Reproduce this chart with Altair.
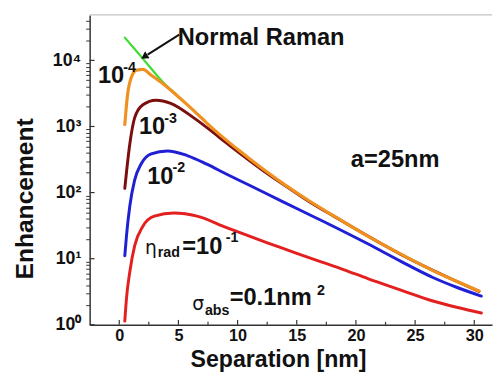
import altair as alt
import pandas as pd

# ---------------- data ----------------
green_x = [0.47, 1.5, 2.5, 3.8, 4.8]
green_y = [22100, 13500, 8300, 4470, 3100]

orange_x = [0.47, 0.7, 1.03, 1.45, 2.0, 2.7, 3.8, 4.8, 5.74, 7.0, 7.96, 10.0, 12.0, 14.0, 16.0, 18.2, 21.0, 23.8, 26.5, 28.5, 30.4]
orange_y = [1070, 3000, 5600, 7100, 7300, 5960, 4270, 3020, 2140, 1320, 912, 451, 237, 131, 76, 43.6, 21.9, 11.7, 6.6, 4.57, 3.24]

maroon_x = [0.47, 0.89, 1.3, 2.0, 3.1, 4.35, 6.3, 8.5, 10.0, 12.0, 14.0, 16.0, 18.2, 23.8, 30.4]
maroon_y = [116, 540, 1350, 2130, 2500, 2240, 1350, 676, 417, 226, 128, 74, 43.1, 11.6, 3.2]

blue_x = [0.47, 0.61, 0.89, 1.3, 1.86, 2.7, 4.08, 5.74, 7.4, 9.0, 11.0, 13.8, 16.6, 18.2, 21.0, 23.8, 26.5, 28.5, 30.6]
blue_y = [11.1, 22, 62, 154, 273, 385, 427, 363, 269, 193, 129, 73, 41.7, 30.2, 16.8, 9.1, 5.2, 3.7, 2.72]

red_x = [0.47, 0.61, 0.89, 1.3, 2.0, 2.97, 4.63, 6.57, 9.07, 11.0, 13.0, 15.0, 17.0, 19.0, 21.0, 23.8, 26.5, 28.5, 30.6]
red_y = [1.14, 2.5, 6.3, 15.6, 31, 44, 49, 44, 29.5, 21.9, 16.2, 12.0, 9.0, 6.8, 5.0, 3.35, 2.29, 1.84, 1.51]

x_ticks_major = [0, 5, 10, 15, 20, 25, 30]
x_ticks_minor = [2.5, 7.5, 12.5, 17.5, 22.5, 27.5]
y_ticks_major = [1, 10, 100, 1000, 10000]
y_ticks_all = [m * 10 ** k for k in range(5) for m in range(1, 10) if m * 10 ** k <= 48000]

# annotation texts (x in nm, y in enhancement units)
big_text = ["Normal Raman", "10", "10", "10", "=10", "=0.1nm", "a=25nm"]
big_x = [4.95, -1.8, 1.66, 2.36, 5.33, 9.33, 19.57]
big_y = [16800, 4470, 762, 137, 11.8, 1.99, 240]

greek_text = ["η", "σ"]
greek_x = [2.17, 6.16]
greek_y = [11.8, 1.67]

small_text = ["-4", "-3", "-2", "-1", "rad", "abs", "2"]
small_x = [0.34, 3.81, 4.5, 9.0, 3.25, 7.24, 16.7]
small_y = [6670, 1128, 205, 17.8, 10.6, 1.41, 2.8]

arrow_x = [5.07, 2.4]
arrow_y = [24500, 12200]
head_x = [2.2]
head_y = [11600]

# ---------------- layout ----------------
W, H = 409, 315
X_DOMAIN = [-2.5, 31.5]
Y_DOMAIN = [1, 48700]
FONT = "Liberation Sans"

xs = alt.Scale(domain=X_DOMAIN, nice=False, zero=False)
ys = alt.Scale(type="log", domain=Y_DOMAIN, nice=False)

label_expr = ("datum.value==1?'10⁰':datum.value==10?'10¹':datum.value==100?'10²':"
              "datum.value==1000?'10³':datum.value==10000?'10⁴':''")

x_axis = alt.Axis(title="Separation [nm]", values=x_ticks_major, ticks=False, grid=False,
                  labelFontSize=16.5, labelPadding=3, labelFlush=False,
                  titleFontSize=23.5, titleX=191.5, titleY=42, titleAlign="center",
                  titleBaseline="alphabetic")
y_axis = alt.Axis(title="Enhancement", values=y_ticks_all, labelExpr=label_expr, grid=False,
                  tickSize=4, labelPadding=5, labelOverlap=False, labelFontSize=18,
                  tickColor={"condition": {"test": "indexof([1,10,100,1000,10000], datum.value) >= 0",
                                           "value": "transparent"}, "value": "#333333"},
                  titleFontSize=25, titleX=-58, titleY=186.5, titleAngle=270,
                  titleAlign="center", titleBaseline="alphabetic")


def X(field="x"):
    return alt.X(f"{field}:Q", scale=xs, axis=x_axis)


def Y(field="y"):
    return alt.Y(f"{field}:Q", scale=ys, axis=y_axis)


def line_layer(xv, yv, color, width):
    df = pd.DataFrame({"x": xv, "y": yv})
    return alt.Chart(df).mark_line(color=color, strokeWidth=width, interpolate="monotone",
                                   strokeCap="round").encode(x=X(), y=Y())


top_line = alt.Chart(pd.DataFrame({"a": [0]})).mark_rule(color="#c4c4c4", strokeWidth=1.2).encode(
    x=alt.value(0), x2=alt.value(W), y=alt.value(0))

xmaj = alt.Chart(pd.DataFrame({"x": x_ticks_major})).mark_rule(color="#333333", strokeWidth=1.2).encode(
    x=X(), y=alt.value(H), y2=alt.value(H - 5))
xmin = alt.Chart(pd.DataFrame({"x": x_ticks_minor})).mark_rule(color="#333333", strokeWidth=1.2).encode(
    x=X(), y=alt.value(H), y2=alt.value(H - 3))
ymaj = alt.Chart(pd.DataFrame({"y": y_ticks_major})).mark_rule(color="#333333", strokeWidth=1.2).encode(
    y=Y(), x=alt.value(0), x2=alt.value(5))

green = line_layer(green_x, green_y, "#3ddc2e", 2.2)
red = line_layer(red_x, red_y, "#e3201f", 3)
blue = line_layer(blue_x, blue_y, "#1f1fd6", 3)
maroon = line_layer(maroon_x, maroon_y, "#7b0f0f", 3)
orange = line_layer(orange_x, orange_y, "#f0901f", 3.2)

big = alt.Chart(pd.DataFrame({"x": big_x, "y": big_y, "t": big_text})).mark_text(
    font=FONT, fontSize=24, fontWeight="bold", align="left", baseline="alphabetic", color="#111111"
).encode(x=X(), y=Y(), text="t:N")
greek = alt.Chart(pd.DataFrame({"x": greek_x, "y": greek_y, "t": greek_text})).mark_text(
    font="DejaVu Sans", fontSize=19, align="left", baseline="alphabetic", color="#111111"
).encode(x=X(), y=Y(), text="t:N")
small = alt.Chart(pd.DataFrame({"x": small_x, "y": small_y, "t": small_text})).mark_text(
    font=FONT, fontSize=14.5, fontWeight="bold", align="left", baseline="alphabetic", color="#111111"
).encode(x=X(), y=Y(), text="t:N")

arrow = alt.Chart(pd.DataFrame({"x": [arrow_x[0]], "y": [arrow_y[0]], "x2": [arrow_x[1]], "y2": [arrow_y[1]]})).mark_rule(
    color="#111111", strokeWidth=2).encode(x=X(), y=Y(), x2="x2:Q", y2="y2:Q")
head = alt.Chart(pd.DataFrame({"x": head_x, "y": head_y})).mark_point(
    shape="triangle", filled=True, size=70, angle=238, color="#111111", opacity=1).encode(x=X(), y=Y())

chart = alt.layer(
    top_line, xmaj, xmin, ymaj, green, red, blue, maroon, orange, arrow, head, big, greek, small
).properties(
    width=W, height=H,
    padding={"left": 83, "top": 4, "right": 2, "bottom": 49},
    autosize=alt.AutoSizeParams(type="none"),
).configure_view(strokeWidth=0).configure_axis(
    domainColor="#333333", domainWidth=1.5, labelFont=FONT, labelFontWeight="bold",
    labelColor="#111111", titleFont=FONT, titleFontWeight="bold", titleColor="#111111"
)

chart.save("out.html", embed_options={"renderer": "svg", "actions": False})
